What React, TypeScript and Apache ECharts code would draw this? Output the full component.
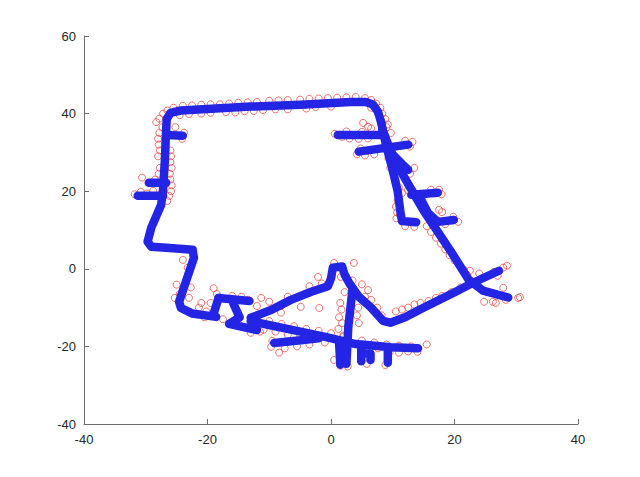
import { useEffect, useRef } from "react";
import * as echarts from "echarts";

// Axis ranges / ticks
const xRange = [-40, 40];
const yRange = [-40, 60];
const tickStep = 20;

// Blue trajectory segments [x, y]
const westSide = [
  [-18.6, -12.4], [-22.5, -11.5], [-24.3, -10.1], [-24.6, -8.5], [-22.2, 2.8], [-22.4, 4.9],
  [-26.7, 5.4], [-29.1, 5.7], [-29.7, 7.0], [-29.1, 10.6], [-28.7, 12.1], [-27.5, 16.5],
  [-27.2, 20.4], [-26.9, 28.1], [-26.7, 35.8], [-26.6, 38.6], [-26.0, 40.2], [-24.3, 40.8],
  [-13.0, 41.8], [-4.9, 42.3], [3.2, 43.0], [5.7, 43.0], [6.8, 42.3], [7.6, 40.5], [8.1, 37.9],
];
const eastInner = [
  [8.1, 37.9], [8.9, 32.0], [9.9, 26.0], [10.8, 20.0], [11.3, 14.0], [11.5, 12.3], [13.8, 12.0],
];
const eastOuter = [
  [8.3, 36.0], [9.5, 31.0], [11.0, 26.0], [13.0, 20.5], [15.0, 15.0], [17.3, 9.5], [19.4, 4.5],
  [22.3, -2.8], [24.6, -5.6], [28.7, -7.4],
];
const midLine = [
  [-13.0, -12.6], [-9.7, -10.6], [-6.5, -8.0], [-3.2, -5.9], [-0.5, -4.5], [0.0, -2.5], [0.3, 0.3],
  [1.8, 0.6], [2.2, -1.5], [3.0, -3.8], [4.5, -7.2], [6.5, -10.0], [8.4, -13.4], [9.6, -13.9],
  [12.0, -12.5], [14.9, -10.1], [20.2, -5.9], [23.0, -3.6], [27.2, -0.5],
];
const lowerLine = [
  [-13.0, -13.5], [-6.5, -15.7], [-1.1, -17.5], [4.0, -19.4], [9.7, -20.2], [14.1, -20.5],
];
const shortSeg = [[-9.2, -19.1], [-4.9, -18.4], [-2.0, -17.9]];
const blobTop = [[-18.2, -7.5], [-13.2, -8.3]];
const blobLeft = [[-18.2, -7.5], [-19.0, -11.5]];
const blobLow = [[-15.8, -9.0], [-14.8, -12.5], [-16.5, -14.2], [-12.0, -15.8]];
const stemMain = [[3.5, -5.0], [2.8, -15.0], [2.5, -24.5]];
const stemSide = [[1.3, -18.5], [1.5, -24.7]];
const tickA = [[4.9, -20.5], [4.9, -23.8]];
const tickB = [[4.9, -21.8], [6.4, -21.8], [6.4, -23.5]];
const tickC = [[9.2, -20.6], [9.2, -24.2]];
const branchN1 = [[1.1, 34.5], [8.1, 34.5]];
const branchN2 = [[4.5, 30.2], [12.5, 32.0]];
const branchN3 = [[9.7, 29.9], [11.5, 27.0], [12.5, 25.5]];
const branchE1 = [[13.0, 19.1], [17.3, 19.6]];
const branchE2 = [[14.6, 17.8], [15.7, 14.4], [17.3, 12.1], [19.9, 12.6]];
const branchW1 = [[-31.3, 18.8], [-27.2, 18.8]];
const branchW2 = [[-29.5, 22.2], [-26.7, 22.2]];
const branchW3 = [[-26.5, 34.5], [-24.0, 34.3]];

// Red measurement circles [x, y]
const topCircles = [
  [-24, 42.0], [-22.5, 42.1], [-21, 42.3], [-19.5, 42.4], [-18, 42.4], [-16.5, 42.6], [-15, 42.8],
  [-13.5, 42.9], [-12, 43.0], [-10, 43.3], [-8.5, 43.4], [-7, 43.5], [-5, 43.6], [-3.5, 43.8],
  [-2, 43.9], [-0.5, 44.0], [1, 44.1], [2.5, 44.2], [4, 44.3], [5.5, 44.0],
  [-24.5, 39.6], [-23, 39.9], [-21, 40.0], [-19.5, 40.2], [-17, 40.4], [-15.5, 40.3], [-14, 40.6],
  [-12.5, 40.7], [-11, 40.9], [-9, 41.1], [-7, 41.1], [-4, 41.3], [-2.5, 41.7], [0, 41.8],
  [6.5, 43.5], [7.3, 42.6], [8.0, 41.5], [8.3, 40.0], [6.5, 41.5], [7.6, 40.4], [8.8, 38.6],
  [9.2, 37.2], [5.2, 37.6], [6.0, 36.6], [9.0, 36.5], [9.7, 35.0], [6.5, 36.2], [5.0, 35.3],
];
const westCircles = [
  [-27.8, 38.7], [-28.3, 37.8], [-27.3, 36.5], [-27.8, 35], [-28.0, 33.5], [-27.9, 32], [-27.7, 30.5],
  [-28.0, 29], [-26, 30.5], [-25.9, 29], [-26, 27.5], [-25.8, 26], [-26.1, 24.5], [-27.7, 26],
  [-27.9, 24.5], [-26, 23], [-25.8, 21.5], [-25.9, 20], [-26.2, 18.8], [-26.5, 17.5], [-30.6, 23.5],
  [-31.8, 19.2], [-30.8, 19.8], [-29.8, 19.4], [-28.8, 20.1], [-28.5, 23], [-24.1, 33.5], [-23.8, 35.1],
  [-25.2, 36.5], [-26.5, 40.8], [-25.5, 41.5], [-27.2, 40.0],
  [-24, 2.3], [-23.2, 0.3], [-25, -4.1], [-22.7, -4.8], [-24.5, -6.5], [-23, -7.5], [-25.3, -7.5],
  [-19, -5], [-21.4, -10], [-20.2, -11], [-21, -8.8], [-19.5, -8.8],
];
const eastCircles = [
  [0.6, 34.8], [1.8, 34.0], [3.0, 33.6], [4.5, 33.5], [6.0, 33.6], [2.5, 35.4], [4.2, 29.5], [5.5, 29.2],
  [4.8, 31.0], [7.0, 29.5], [12.8, 31.5], [13.2, 32.7], [12.0, 33.0], [12.8, 24.5], [13.5, 26.0], [11.5, 26.2],
  [9.0, 30.5], [9.3, 28.5], [9.6, 26.0], [10.2, 24.0], [10.5, 22.5], [11.0, 21.0], [11.5, 19.5], [10.8, 17.5],
  [10.5, 16.0], [10.7, 14.5], [10.6, 13.0], [12.0, 11.0], [13.5, 10.8], [15.5, 11.0], [16.2, 9.5], [17.0, 8.0],
  [17.8, 6.5], [18.5, 5.0], [19.2, 3.5], [20.0, 2.2], [20.8, 1.0], [21.5, -0.2], [22.0, -1.5],
  [12.5, 20.3], [13.2, 20.2], [17.5, 20.4], [17.9, 19.2], [16.2, 20.4], [17.5, 15.2], [18.0, 14.6],
  [20.6, 12.1], [19.8, 13.4], [18.5, 11.5],
  [22.5, -0.5], [24.0, -1.2], [26.4, -0.8], [27.9, 0.3], [27.0, -1.8], [28.5, 0.8],
  [24.8, -8.5], [26.2, -8.5], [26.7, -8.8], [27.9, -4.9], [28.3, -8.0], [30.3, -7.5], [30.6, -7.3],
  [10.5, -11.0], [11.5, -10.5], [12.5, -10.0], [13.5, -9.2], [14.5, -8.8], [15.8, -8.3], [17.0, -7.5],
  [18.0, -7.0], [19.5, -6.0], [21.0, -4.8],
];
const southCircles = [
  [-18.5, -6.5], [-16, -7], [-14.5, -7.2], [-13.4, -8], [-12, -9.6], [-17.5, -13], [-15, -14.2],
  [-13, -16.5], [-11.5, -16.2], [-20.5, -12.5],
  [-11.3, -7.5], [-10, -8.5], [-8, -9.5], [-9.7, -10.6], [-8.1, -11.3], [-7, -7.2], [-4.9, -9.8],
  [-1.9, -10.1], [-2.1, -2.1], [-3.5, -4.5], [-1.5, -3.8],
  [0.5, 1.5], [3.7, 1.5], [1.6, -2.1], [3.5, -3], [5, -4], [6, -5.5], [5.5, -7.2], [2.2, -6],
  [6.5, -8], [7.5, -10], [8.2, -12],
  [1.5, -8.8], [1.7, -10.5], [1.3, -12.5], [1.8, -14], [1.2, -15.5], [2.0, -17.5], [4.4, -10],
  [4.2, -12], [4.5, -14],
  [-9.7, -20.1], [-8.4, -21.6], [-9.5, -18.6], [-10.9, -15.7], [-9, -16.2], [-7, -17], [-5, -17.5],
  [-3, -18], [-1, -19],
  [0.5, -23.5], [1.5, -25], [2.7, -25.2], [7.6, -20.5], [9.5, -21.5], [11, -21.6], [12.5, -21.3],
  [14, -21.4], [15.5, -19.5],
  [-12, -13], [-10, -13.5], [-8, -14.2], [-6, -14.8], [-4, -15.5], [-2, -16], [0, -16.6], [2, -17.2],
  [5, -18.5], [7, -19], [9, -19.5], [11, -19.8], [13, -20],
  [5.8, -24.5], [8.8, -24.8], [-7.5, -20.5], [-5.5, -20], [-3.5, -19.5],
];

const pathSegments = [
  westSide, eastInner, eastOuter, midLine, lowerLine, shortSeg, blobTop, blobLeft, blobLow,
  stemMain, stemSide, tickA, tickB, tickC, branchN1, branchN2, branchN3, branchE1, branchE2,
  branchW1, branchW2, branchW3,
];
const circleGroups = [topCircles, westCircles, eastCircles, southCircles];

export default function App() {
  const ref = useRef<HTMLDivElement>(null);
  useEffect(() => {
    if (!ref.current) return;
    const chart = echarts.init(ref.current, undefined, { renderer: "svg" });
    const axisFont = { fontFamily: "Liberation Sans", fontSize: 13, color: "#262626" };
    const axisLine = { show: true, onZero: false, lineStyle: { color: "#6e6e6e", width: 1 } };
    const series: any[] = [];
    circleGroups.forEach((g) =>
      series.push({
        type: "scatter",
        data: g,
        symbol: "circle",
        symbolSize: 7,
        itemStyle: { color: "rgba(0,0,0,0)", borderColor: "#e8392f", borderWidth: 0.9 },
        z: 2,
        silent: true,
      })
    );
    pathSegments.forEach((seg) =>
      series.push({
        type: "line",
        data: seg,
        showSymbol: false,
        symbol: "none",
        lineStyle: { color: "#2424e4", width: 8.5, cap: "round", join: "round" },
        z: 3,
        silent: true,
      })
    );
    chart.setOption({
      animation: false,
      backgroundColor: "#ffffff",
      grid: { left: 84, right: 62, top: 36, bottom: 53, containLabel: false, outerBoundsMode: "none" },
      xAxis: {
        type: "value",
        min: xRange[0],
        max: xRange[1],
        interval: tickStep,
        axisLine,
        axisTick: { show: true, inside: true, length: 5, lineStyle: { color: "#6e6e6e" } },
        axisLabel: { ...axisFont, margin: 9 },
        splitLine: { show: false },
      },
      yAxis: {
        type: "value",
        min: yRange[0],
        max: yRange[1],
        interval: tickStep,
        axisLine,
        axisTick: { show: true, inside: true, length: 5, lineStyle: { color: "#6e6e6e" } },
        axisLabel: { ...axisFont, margin: 8 },
        splitLine: { show: false },
      },
      series,
    });
    return () => chart.dispose();
  }, []);
  return <div ref={ref} style={{ width: 640, height: 477, position: "absolute", left: 0, top: 0 }} />;
}
